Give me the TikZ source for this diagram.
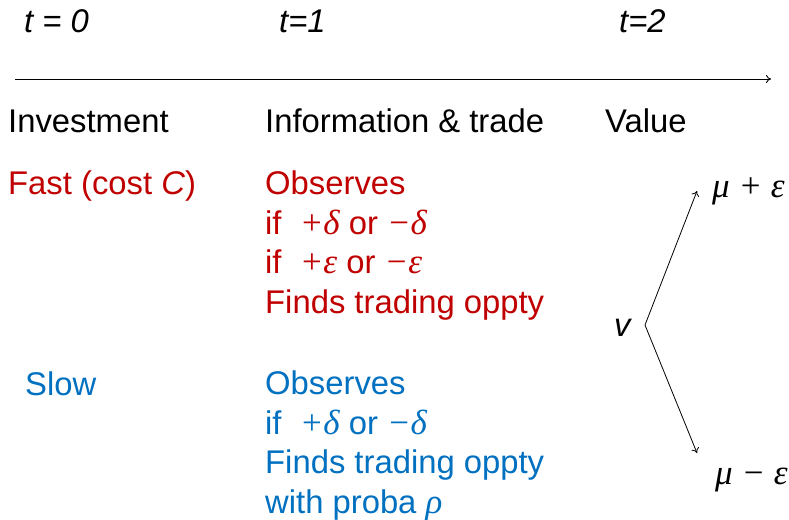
\documentclass[tikz,border=0pt]{standalone}
\usepackage{fontspec}
\setmainfont{Liberation Sans}
\newfontfamily\grkfont{Liberation Serif}
\usetikzlibrary{arrows.meta,positioning}
\definecolor{fastred}{HTML}{C00000}
\definecolor{slowblue}{HTML}{0070C0}
\newcommand{\gk}[1]{{\grkfont\itshape\fontsize{35}{39.5}\selectfont #1}}

\begin{document}
\begin{tikzpicture}[
    x=1pt,y=-1pt,
    lbl/.style={anchor=base west,inner sep=0pt,align=left,
      font=\fontsize{32.8}{39.5}\selectfont},
    tick/.style={lbl,font=\fontsize{32.8}{39.5}\selectfont\itshape},
    >={To[length=5pt,width=8pt]}]
  \useasboundingbox (0,0) rectangle (789,519);
  % time line
  \node[tick] (t0) at (24,33) {t = 0};
  \node[tick] (t1) at (279,33) {t=1};
  \node[tick] (t2) at (619,33) {t=2};
  \coordinate (start) at (15,79);
  \coordinate (stop) at (771,79);
  \draw[->,line width=0.9pt] (start) -- (stop);
  % headers
  \node[lbl] (invest) at (8,132) {Investment};
  \node[lbl] (info) at (265,132) {Information \& trade};
  \node[lbl] (value) at (605,132) {Value};
  % fast trader (anchored on its last line)
  \node[lbl,text=fastred] (fast) at (8,194) {Fast (cost \textit{C})};
  \node[lbl,text=fastred] (fastinfo) at (265,313)
    {Observes\\
     if \ \gk{+δ} or \gk{−δ}\\
     if \ \gk{+ε} or \gk{−ε}\\
     Finds trading oppty};
  % slow trader
  \node[lbl,text=slowblue] (slow) at (25,395) {Slow};
  \node[lbl,text=slowblue] (slowinfo) at (265,513)
    {Observes\\
     if \ \gk{+δ} or \gk{−δ}\\
     Finds trading oppty\\
     with proba \gk{ρ}};
  % value tree
  \node[tick] (v) at (614,336) {v};
  \coordinate (fork) at (645,325);
  \coordinate (uptip) at (697,191);
  \coordinate (downtip) at (697,453);
  \node[lbl] (high) at (712,197) {\gk{μ + ε}};
  \node[lbl] (low) at (715,484) {\gk{μ − ε}};
  \draw[->,line width=0.8pt] (fork) -- (uptip);
  \draw[->,line width=0.8pt] (fork) -- (downtip);
\end{tikzpicture}
\end{document}
